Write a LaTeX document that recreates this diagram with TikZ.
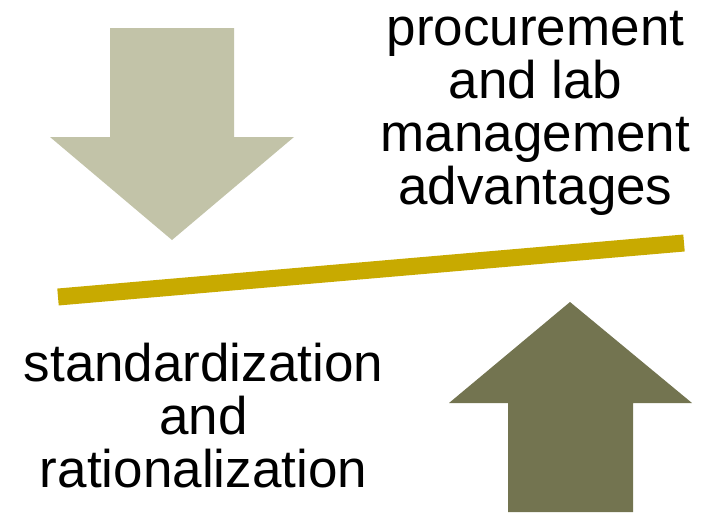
\documentclass[tikz,border=0pt]{standalone}
\usepackage{fontspec}
\setmainfont{Liberation Sans}
\usepackage{tikz}
\usetikzlibrary{positioning}
\definecolor{sageLight}{RGB}{194,195,168}
\definecolor{oliveDark}{RGB}{115,116,80}
\definecolor{balanceGold}{RGB}{200,170,0}

\begin{document}
\begin{tikzpicture}[x=1pt, y=-1pt,
    side text/.style={align=center, inner sep=0pt, font=\fontsize{53}{53}\selectfont}]
    \useasboundingbox (0,0) rectangle (712,512);

    % Down arrow
    \fill[sageLight] (110,28) -- (234,28) -- (234,137) -- (294,137) -- (172,240) -- (50,137) -- (110,137) -- cycle;

    % Up arrow
    \fill[oliveDark] (508,512) -- (633,512) -- (633,403) -- (692,403) -- (570,302) -- (449,403) -- (508,403) -- cycle;

    % Balance bar
    \coordinate (barLeft) at (58,297);
    \coordinate (barRight) at (684,243);
    \draw[balanceGold, line width=17pt] (barLeft) -- (barRight);

    % Texts
    \node[side text, anchor=base] (advantages) at (535.5,204) {procurement\\and lab\\management\\advantages};
    \node[side text, anchor=base] (standards) at (203.5,487) {standardization\\and\\rationalization};
\end{tikzpicture}
\end{document}
